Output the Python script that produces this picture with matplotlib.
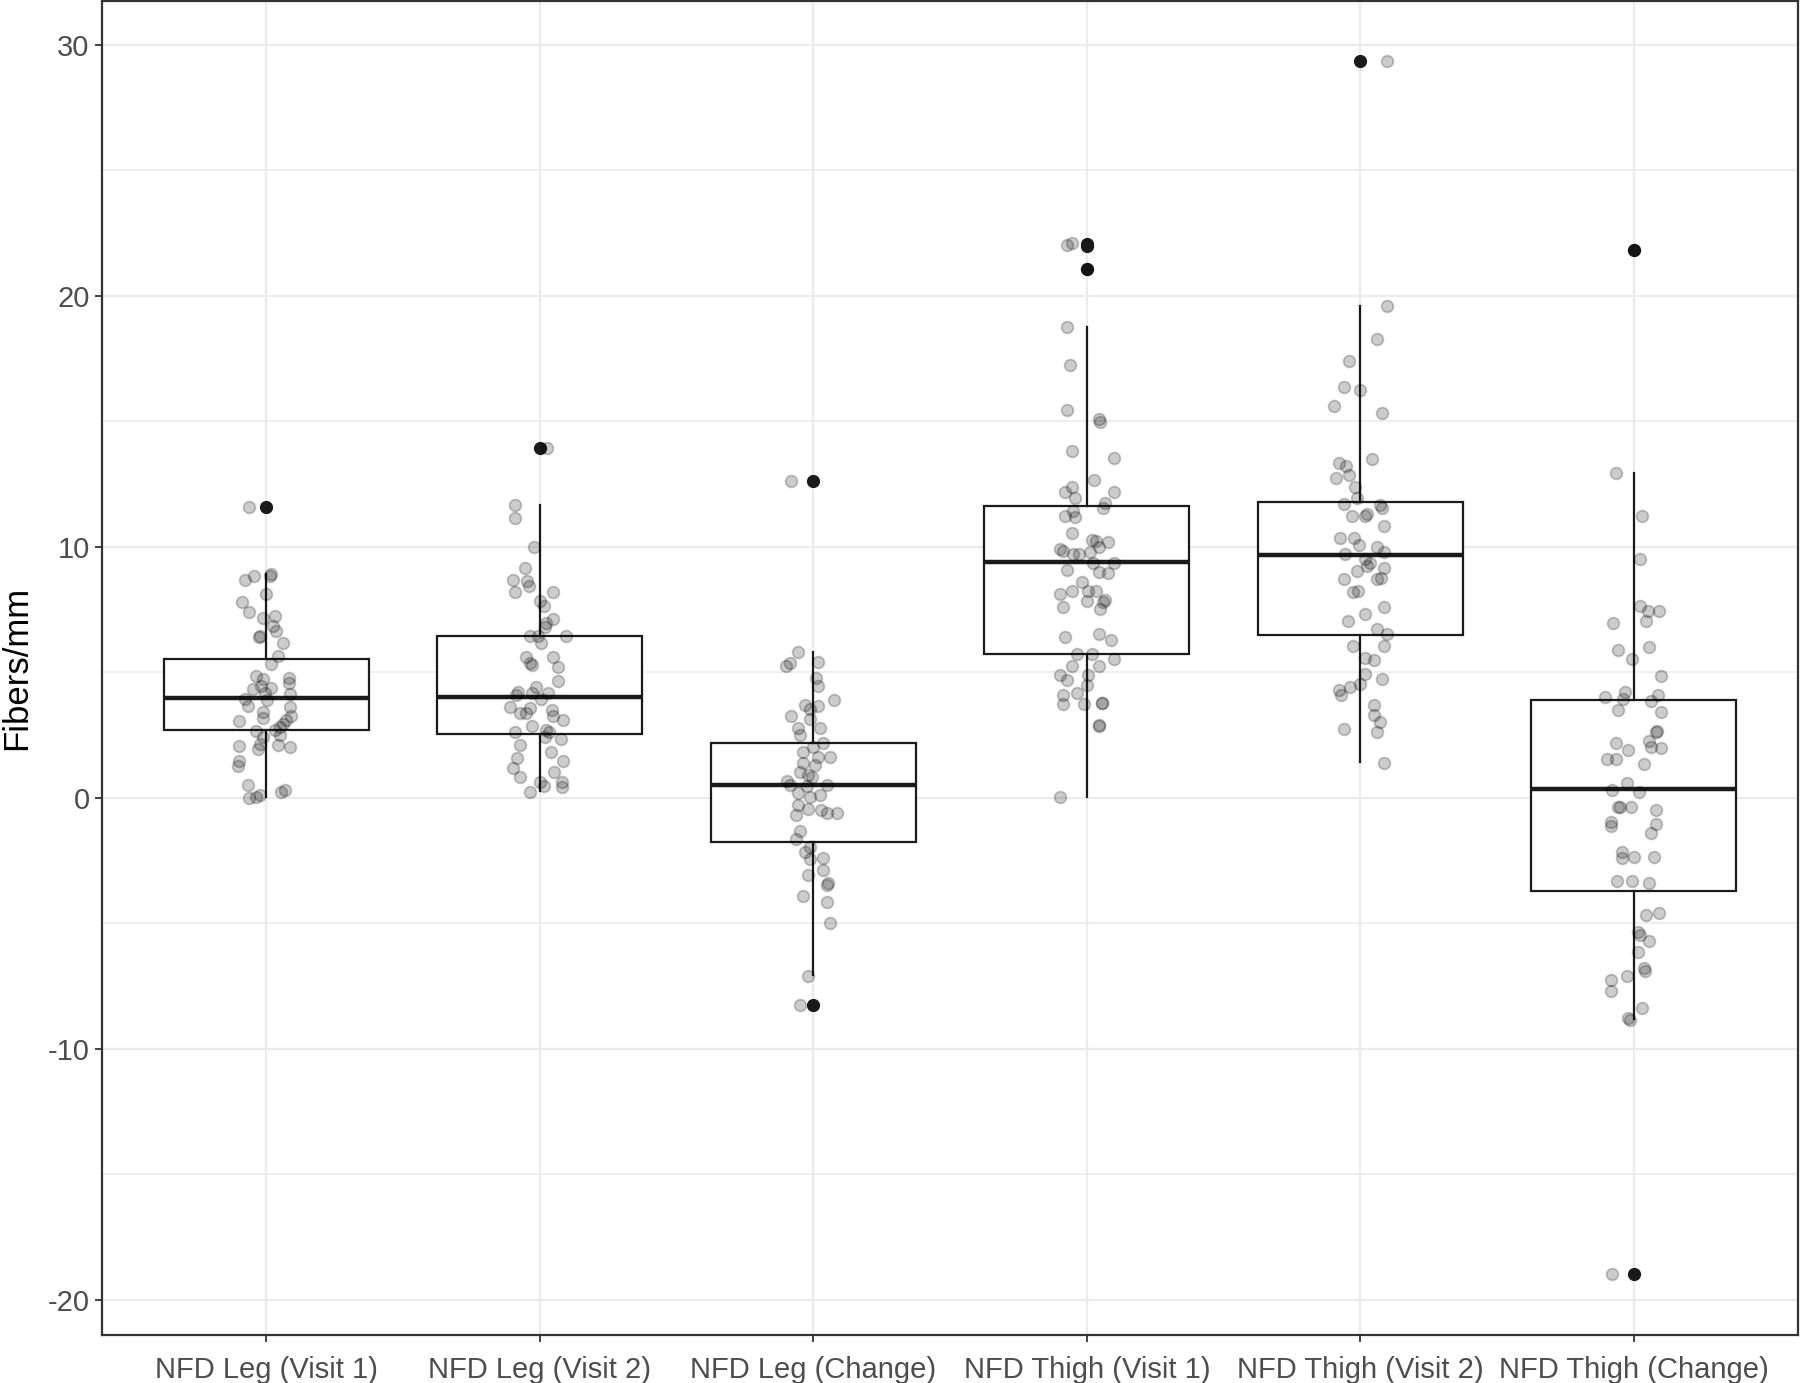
import matplotlib
matplotlib.use("Agg")
import matplotlib.pyplot as plt
from matplotlib.ticker import MultipleLocator

plt.rcParams["axes.unicode_minus"] = False

categories = ["NFD Leg (Visit 1)", "NFD Leg (Visit 2)", "NFD Leg (Change)",
              "NFD Thigh (Visit 1)", "NFD Thigh (Visit 2)", "NFD Thigh (Change)"]

# box statistics
q1 = [2.69, 2.55, -1.74, 5.72, 6.49, -3.71]
median = [3.97, 4.02, 0.51, 9.40, 9.67, 0.34]
q3 = [5.53, 6.46, 2.18, 11.63, 11.80, 3.90]
whisker_low = [0.03, 0.28, -7.06, 0.03, 1.42, -8.80]
whisker_high = [8.93, 11.67, 5.81, 18.78, 19.61, 12.95]
outliers = [[11.6], [13.95], [12.61, -8.25], [22.05, 22.0, 21.06], [29.36], [21.83, -18.98]]

# jittered observations: horizontal jitter offset and value
g1_off = [-0.061, 0.018, 0.015, -0.079, -0.043, 0.0, -0.088, -0.061, -0.012, 0.034, 0.024, 0.037,
          -0.027, -0.021, 0.061, 0.045, 0.018, -0.037, -0.012, 0.083, 0.085, -0.018, 0.018, -0.049,
          -0.006, 0.088, -0.079, 0.002, -0.067, 0.088, -0.012, -0.012, -0.098, 0.091, 0.073, 0.061,
          0.049, 0.034, -0.037, -0.012, 0.051, -0.098, -0.024, -0.030, 0.043, 0.088, -0.098, -0.104,
          -0.067, -0.022, -0.037, -0.061, 0.055, 0.070]
g1_val = [11.6, 8.93, 8.84, 8.70, 8.84, 8.11, 7.82, 7.42, 7.16, 7.25, 6.85, 6.65,
          6.39, 6.43, 6.19, 5.66, 5.33, 4.87, 4.74, 4.76, 4.58, 4.47, 4.37, 4.34,
          4.18, 4.14, 3.94, 3.88, 3.68, 3.62, 3.41, 3.17, 3.08, 3.25, 3.12, 2.95,
          2.82, 2.69, 2.65, 2.42, 2.49, 2.05, 2.16, 1.93, 2.12, 2.02, 1.46, 1.27,
          0.53, 0.11, 0.04, 0.0, 0.24, 0.30]

g2_off = [0.028, -0.091, -0.091, -0.022, -0.055, -0.098, -0.045, -0.039, -0.089, 0.049, 0.0, 0.015,
          0.049, 0.024, 0.018, -0.037, -0.006, 0.095, 0.006, -0.049, -0.034, -0.030, 0.049, 0.067,
          0.067, -0.012, -0.079, -0.085, -0.030, 0.030, 0.006, -0.107, -0.037, -0.073, -0.049, 0.046,
          0.049, 0.085, -0.027, -0.091, 0.024, 0.034, 0.018, 0.076, -0.071, 0.043, -0.083, 0.085,
          -0.098, -0.073, 0.051, 0.0, 0.015, 0.083, 0.083, -0.037]
g2_val = [13.95, 11.67, 11.16, 10.01, 9.16, 8.68, 8.64, 8.46, 8.20, 8.20, 7.83, 7.63,
          7.14, 6.97, 6.80, 6.46, 6.46, 6.46, 6.16, 5.60, 5.36, 5.29, 5.60, 5.23,
          4.67, 4.43, 4.22, 4.08, 4.18, 4.18, 3.92, 3.62, 3.60, 3.39, 3.37, 3.49,
          3.25, 3.12, 2.85, 2.63, 2.71, 2.63, 2.43, 2.33, 2.09, 1.84, 1.57, 1.48,
          1.20, 0.83, 1.03, 0.63, 0.49, 0.63, 0.45, 0.25]

g3_off = [-0.082, -0.049, -0.055, -0.085, -0.098, 0.018, 0.010, 0.018, 0.077, -0.030, -0.012, 0.018,
          -0.082, -0.012, -0.055, 0.024, -0.049, 0.034, -0.002, -0.037, 0.018, 0.061, -0.037, 0.006,
          -0.049, -0.018, -0.006, -0.095, -0.085, -0.024, 0.049, -0.055, 0.024, -0.012, -0.055, -0.018,
          0.030, 0.049, 0.085, -0.063, -0.049, -0.063, -0.012, -0.030, -0.012, 0.037, 0.034, -0.018,
          0.055, 0.049, -0.037, 0.051, 0.061, -0.021]
g3_val = [12.61, -8.25, 5.81, 5.38, 5.24, 5.43, 4.79, 4.46, 3.89, 3.70, 3.56, 3.65,
          3.25, 3.13, 2.79, 2.79, 2.51, 2.18, 2.04, 1.82, 1.64, 1.61, 1.40, 1.32,
          1.04, 0.90, 0.83, 0.66, 0.51, 0.47, 0.51, 0.19, 0.11, 0.04, -0.28, -0.46,
          -0.50, -0.60, -0.60, -0.70, -1.31, -1.62, -1.95, -2.17, -2.42, -2.38, -2.88, -3.09,
          -3.38, -3.48, -3.90, -4.13, -4.99, -7.08]

g4_off = [-0.073, -0.055, 0.0, -0.071, -0.063, -0.071, 0.043, 0.049, -0.055, 0.098, 0.027, -0.055,
          -0.079, -0.043, 0.098, 0.067, 0.061, -0.049, -0.079, -0.043, -0.055, 0.018, 0.034, 0.079,
          -0.098, -0.088, -0.049, -0.030, 0.046, 0.012, 0.024, 0.098, -0.071, 0.046, 0.079, -0.018,
          -0.098, -0.055, 0.006, 0.034, 0.067, 0.061, 0.0, -0.088, 0.049, -0.079, 0.043, 0.088,
          -0.037, 0.018, 0.098, -0.055, 0.043, -0.098, -0.071, 0.006, 0.0, -0.088, -0.037, -0.012,
          -0.088, 0.055, 0.057, 0.043, 0.045, -0.098]
g4_val = [22.02, 22.10, 21.06, 18.78, 17.23, 15.44, 15.10, 14.98, 13.81, 13.54, 12.67, 12.40,
          12.18, 11.94, 12.18, 11.73, 11.53, 11.42, 11.25, 11.18, 10.57, 10.27, 10.24, 10.21,
          9.93, 9.84, 9.73, 9.70, 10.01, 9.81, 9.35, 9.35, 9.09, 8.99, 8.94, 8.59,
          8.14, 8.23, 8.23, 8.23, 7.88, 7.80, 7.83, 7.62, 7.53, 6.40, 6.51, 6.28,
          5.75, 5.75, 5.55, 5.25, 5.25, 4.91, 4.68, 4.88, 4.49, 4.11, 4.18, 3.73,
          3.73, 3.80, 3.78, 2.90, 2.88, 0.02]

g5_off = [0.098, 0.098, 0.061, -0.043, -0.061, 0.0, -0.098, 0.079, 0.043, -0.079, -0.051, -0.088,
          -0.043, -0.018, -0.012, -0.061, 0.073, 0.079, -0.030, 0.024, 0.018, 0.085, -0.073, -0.024,
          -0.006, 0.061, 0.085, -0.055, 0.018, 0.037, 0.024, 0.085, -0.061, -0.012, 0.061, 0.076,
          -0.027, -0.009, 0.088, 0.018, -0.045, 0.061, 0.098, -0.027, 0.088, 0.018, 0.051, 0.018,
          0.079, 0.0, -0.037, -0.079, -0.071, 0.051, 0.051, 0.073, 0.061, -0.061, 0.088]
g5_val = [29.36, 19.61, 18.28, 17.41, 16.37, 16.27, 15.62, 15.33, 13.51, 13.34, 13.24, 12.76,
          12.86, 12.37, 11.95, 11.70, 11.66, 11.56, 11.22, 11.31, 11.22, 10.85, 10.37, 10.37,
          10.08, 9.98, 9.79, 9.73, 9.50, 9.34, 9.25, 9.15, 8.73, 9.02, 8.73, 8.76,
          8.19, 8.24, 7.61, 7.32, 7.03, 6.74, 6.54, 6.06, 6.06, 5.58, 5.48, 4.94,
          4.75, 4.52, 4.42, 4.29, 4.09, 3.69, 3.32, 3.01, 2.63, 2.74, 1.39]

g6_off = [-0.079, 0.002, -0.067, 0.030, 0.021, 0.021, 0.051, 0.091, 0.046, -0.077, -0.059, 0.055,
          -0.006, 0.100, -0.104, -0.033, -0.039, 0.088, 0.061, -0.059, 0.100, 0.079, 0.083, -0.067,
          0.055, -0.022, 0.061, 0.100, -0.098, -0.067, 0.037, -0.024, -0.079, 0.018, -0.059, -0.051,
          -0.012, 0.079, -0.085, -0.085, 0.079, 0.063, -0.043, -0.043, 0.002, 0.073, -0.061, -0.006,
          0.055, 0.046, 0.091, 0.015, 0.024, 0.055, 0.015, 0.037, 0.039, -0.024, -0.085, -0.085,
          0.030, -0.022, -0.015]
g6_val = [-18.98, 21.83, 12.95, 11.25, 9.53, 7.63, 7.46, 7.46, 7.05, 6.96, 5.91, 6.01,
          5.54, 4.87, 4.03, 4.22, 3.94, 4.09, 3.84, 3.51, 3.43, 2.63, 2.65, 2.20,
          2.28, 1.92, 2.03, 2.00, 1.53, 1.53, 1.36, 0.60, 0.32, 0.22, -0.37, -0.37,
          -0.37, -0.47, -0.95, -1.12, -1.03, -1.40, -2.16, -2.41, -2.37, -2.37, -3.32, -3.32,
          -3.41, -4.68, -4.57, -5.34, -5.47, -5.69, -6.16, -6.77, -6.90, -7.11, -7.24, -7.69,
          -8.36, -8.77, -8.84]

offsets = [g1_off, g2_off, g3_off, g4_off, g5_off, g6_off]
values = [g1_val, g2_val, g3_val, g4_val, g5_val, g6_val]

y_ticks = [-20, -10, 0, 10, 20, 30]
y_label = "Fibers/mm"

fig = plt.figure(figsize=(18, 13.83), dpi=100)
ax = fig.add_axes([0.0567, 0.0347, 0.9422, 0.9646])

positions = list(range(1, len(categories) + 1))
stats = []
for i in range(len(categories)):
    stats.append(dict(med=median[i], q1=q1[i], q3=q3[i], whislo=whisker_low[i],
                      whishi=whisker_high[i], fliers=outliers[i], label=categories[i]))

ax.bxp(stats, positions=positions, widths=0.75, showcaps=False, patch_artist=True,
       boxprops=dict(facecolor="white", edgecolor="#1a1a1a", linewidth=1.6),
       medianprops=dict(color="#1a1a1a", linewidth=3.2, solid_capstyle="butt"),
       whiskerprops=dict(color="#1a1a1a", linewidth=1.6),
       flierprops=dict(marker="o", markerfacecolor="#1a1a1a", markeredgecolor="#1a1a1a",
                       markersize=8.5, linestyle="none"),
       zorder=2)

for i, (off, val) in enumerate(zip(offsets, values)):
    xs = [positions[i] + o for o in off]
    ax.scatter(xs, val, s=72, facecolor=(0, 0, 0, 0.2), edgecolor=(0, 0, 0, 0.22),
               linewidth=1.3, zorder=3)

ax.set_xlim(0.4, 6.6)
ax.set_ylim(-21.4, 31.75)
ax.set_xticks(positions)
ax.set_xticklabels(categories)
ax.set_yticks(y_ticks)
ax.yaxis.set_minor_locator(MultipleLocator(5))

ax.grid(True, which="major", color="#ebebeb", linewidth=1.6)
ax.grid(True, which="minor", axis="y", color="#ebebeb", linewidth=1.2)
ax.set_axisbelow(True)

for sp in ax.spines.values():
    sp.set_color("#333333")
    sp.set_linewidth(1.6)

ax.tick_params(axis="both", which="major", length=5, width=1.3, color="#333333",
               labelcolor="#4d4d4d", labelsize=21, pad=4)
ax.tick_params(axis="x", which="major", pad=10)
ax.tick_params(axis="y", which="minor", length=0)
for lab in ax.get_xticklabels() + ax.get_yticklabels():
    lab.set_family("Liberation Sans")

ax.set_ylabel(y_label, fontsize=25, family="Liberation Sans", color="black")
ax.yaxis.set_label_coords(-0.0505, 0.5)
ax.yaxis.label.set_verticalalignment("center")

fig.savefig("out.png", dpi=100)
